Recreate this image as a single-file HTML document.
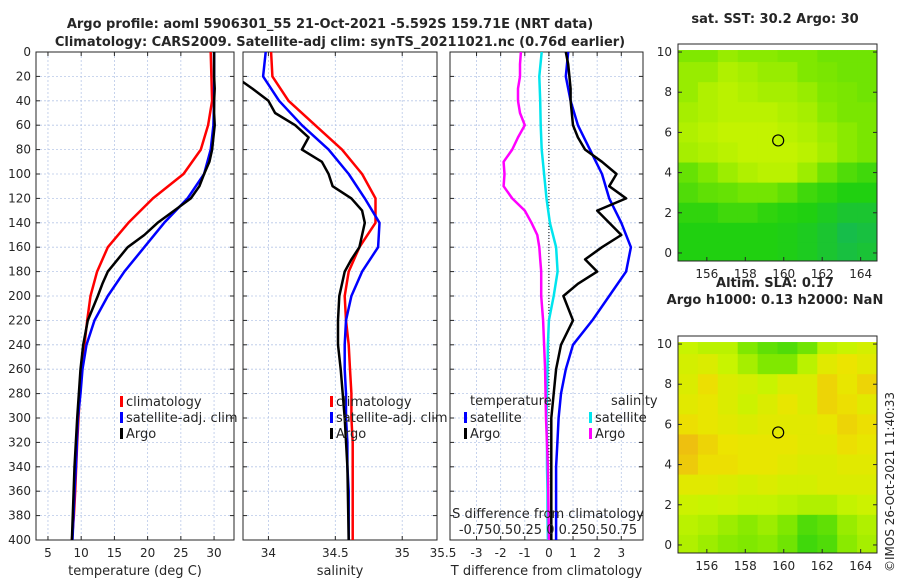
<!DOCTYPE html>
<html><head><meta charset="utf-8"><style>
body{margin:0;background:#fff;font-family:"Liberation Sans",sans-serif}
svg text{font-family:"DejaVu Sans","Liberation Sans",sans-serif;fill:#262626}
</style></head><body>
<svg id="c" width="900" height="580" xmlns="http://www.w3.org/2000/svg">
<text x="330" y="28" font-size="13" font-weight="bold" text-anchor="middle">Argo profile: aoml 5906301_55 21-Oct-2021 -5.592S 159.71E (NRT data)</text>
<text x="340" y="46" font-size="13" font-weight="bold" text-anchor="middle">Climatology: CARS2009. Satellite-adj clim: synTS_20211021.nc (0.76d earlier)</text>
<text x="775" y="23" font-size="13" font-weight="bold" text-anchor="middle">sat. SST: 30.2 Argo: 30</text>
<text x="775" y="287" font-size="13" font-weight="bold" text-anchor="middle">Altim. SLA: 0.17</text>
<text x="775" y="304" font-size="13" font-weight="bold" text-anchor="middle">Argo h1000: 0.13 h2000: NaN</text>
<text transform="translate(894,572) rotate(-90)" font-size="12">©IMOS 26-Oct-2021 11:40:33</text>
</svg>
<script>
// ---- data ----
const depths=[0,20,40,60,80,100,120,140,160,180,200,220,240,260,280,300,320,340,360,380,400];
const tempClim=[29.5,29.6,29.7,29.1,28.0,25.4,20.8,17.1,14.0,12.4,11.4,10.9,10.5,10.1,9.8,9.6,9.4,9.25,9.1,8.9,8.6];
const tempSat=[30.0,30.0,30.0,29.9,29.5,28.5,26.0,22.5,19.5,16.5,14.0,12.0,10.8,10.2,9.9,9.5,9.35,9.2,9.0,8.85,8.7];
const argoDepths=[0,10,20,30,40,50,60,70,80,90,100,110,120,130,140,150,160,170,180,190,200,220,240,260,300,340,400];
const tempArgo=[30.0,30.0,30.0,30.1,30.0,30.0,30.1,29.9,29.7,29.3,28.5,27.8,26.5,24.0,21.5,19.5,17.0,15.5,14.0,13.2,12.5,11.0,10.3,9.9,9.4,9.0,8.6];
const salClim=[34.02,34.03,34.15,34.35,34.55,34.70,34.80,34.80,34.68,34.60,34.57,34.58,34.60,34.61,34.62,34.62,34.63,34.63,34.63,34.63,34.63];
const salSat=[33.98,33.96,34.08,34.25,34.45,34.60,34.72,34.83,34.82,34.70,34.62,34.58,34.57,34.57,34.58,34.58,34.59,34.59,34.60,34.60,34.60];
const salArgo=[33.80,33.80,33.75,33.88,34.00,34.05,34.20,34.30,34.25,34.40,34.45,34.48,34.62,34.70,34.72,34.70,34.68,34.62,34.57,34.55,34.53,34.52,34.52,34.54,34.57,34.59,34.60];
const dTsat=[0.8,0.7,0.9,1.2,1.7,2.2,2.5,3.0,3.4,3.2,2.5,1.8,1.0,0.7,0.5,0.4,0.35,0.3,0.3,0.3,0.3];
const dTargo=[0.7,0.8,0.85,0.9,0.9,0.95,1.0,1.2,1.5,2.2,2.8,2.5,3.2,2.0,2.5,3.0,2.2,1.5,2.0,1.2,0.6,1.0,0.5,0.3,0.1,0.1,0.1];
const dSsat=[-0.075,-0.1,-0.09,-0.085,-0.075,-0.05,-0.025,0.01,0.075,0.09,0.05,0,-0.01,-0.015,-0.02,-0.025,-0.02,-0.02,-0.015,-0.015,-0.01];
const dSargo=[-0.29,-0.3,-0.3,-0.32,-0.32,-0.3,-0.25,-0.32,-0.38,-0.47,-0.46,-0.47,-0.38,-0.25,-0.18,-0.12,-0.1,-0.09,-0.08,-0.08,-0.08,-0.06,-0.05,-0.04,-0.03,-0.01,0.0];
const depthTicks=[0,20,40,60,80,100,120,140,160,180,200,220,240,260,280,300,320,340,360,380,400];
const tempTicks=[5,10,15,20,25,30];
const salTicks=[34,34.5,35];
const salTickLabels=["34","34.5","35"];
const dTTicks=[-3,-2,-1,0,1,2,3];
const mapXTicks=[156,158,160,162,164];
const mapYTicks=[0,2,4,6,8,10];
const sstGrid=[
[.6,.6,.65,.62,.62,.6,.6,.55,.55,.55],
[.65,.65,.7,.68,.65,.65,.6,.58,.55,.55],
[.65,.7,.72,.7,.68,.68,.65,.6,.58,.55],
[.68,.7,.72,.72,.72,.7,.68,.62,.58,.58],
[.7,.72,.74,.74,.74,.72,.7,.66,.62,.58],
[.68,.7,.72,.74,.74,.74,.72,.68,.62,.58],
[.52,.6,.66,.7,.72,.72,.66,.55,.45,.4],
[.45,.5,.52,.56,.56,.5,.4,.35,.3,.3],
[.35,.35,.4,.4,.35,.32,.3,.25,.2,.2],
[.3,.3,.3,.3,.3,.28,.25,.2,.12,.15],
[.3,.3,.3,.3,.3,.28,.25,.2,.15,.18]];
const slaGrid=[
[.75,.72,.72,.6,.5,.45,.55,.72,.75,.78],
[.78,.8,.75,.68,.6,.6,.72,.82,.85,.82],
[.8,.86,.8,.78,.75,.8,.8,.88,.84,.88],
[.82,.84,.8,.76,.8,.84,.8,.88,.86,.82],
[.86,.84,.82,.8,.82,.82,.82,.84,.88,.86],
[.92,.88,.85,.84,.84,.84,.82,.82,.86,.84],
[.9,.86,.86,.84,.84,.82,.8,.8,.82,.82],
[.82,.82,.8,.78,.8,.78,.78,.8,.8,.8],
[.76,.75,.76,.74,.74,.72,.7,.7,.74,.76],
[.72,.7,.66,.62,.66,.6,.45,.5,.65,.7],
[.7,.66,.62,.6,.62,.55,.4,.45,.62,.68]];
const argoLon=159.71, argoLat=5.6;

const svg=document.getElementById('c');
const NS='http://www.w3.org/2000/svg';
function mk(tag,attrs,parent){const e=document.createElementNS(NS,tag);for(const k in attrs)e.setAttribute(k,attrs[k]);(parent||svg).appendChild(e);return e;}
function txt(x,y,s,size,anchor,parent){const t=mk('text',{x:x,y:y,'font-size':size,'text-anchor':anchor||'middle'},parent);t.textContent=s;return t;}
const Y0=52,Y1=540;
const yD=d=>Y0+(d/400)*(Y1-Y0);
function panel(name,x0,x1,xmin,xmax,ticks,labels,xlabel,showY){
  const g=mk('g',{});
  
  
  const sx=v=>x0+(v-xmin)/(xmax-xmin)*(x1-x0);
  depthTicks.forEach(d=>{if(d>0&&d<400){const l=mk('line',{x1:x0,x2:x1,y1:yD(d),y2:yD(d),stroke:'#b8c8e8','stroke-width':0.8,'stroke-dasharray':'2,2'},g);}});
  ticks.forEach((v,i)=>{const X=sx(v);
    const l=mk('line',{x1:X,x2:X,y1:Y0,y2:Y1,stroke:'#b8c8e8','stroke-width':0.8,'stroke-dasharray':'2,2'},g);
    mk('line',{x1:X,x2:X,y1:Y1,y2:Y1-4,stroke:'#262626'},g);mk('line',{x1:X,x2:X,y1:Y0,y2:Y0+4,stroke:'#262626'},g);
    const t=txt(X,Y1+17,labels[i],12,'middle',g);});
  depthTicks.forEach(d=>{mk('line',{x1:x0,x2:x0+4,y1:yD(d),y2:yD(d),stroke:'#262626'},g);mk('line',{x1:x1,x2:x1-4,y1:yD(d),y2:yD(d),stroke:'#262626'},g);
    if(showY){const t=txt(x0-5,yD(d)+4,String(d),12,'end',g);}});
  const r=mk('rect',{x:x0,y:Y0,width:x1-x0,height:Y1-Y0,fill:'none',stroke:'#262626','stroke-width':1},g);
  
  const xl=txt((x0+x1)/2,Y1+35,xlabel,13,'middle',g);
  
  const cp=mk('clipPath',{id:'cp'+name},g);mk('rect',{x:x0,y:Y0,width:x1-x0,height:Y1-Y0},cp);
  return {g,sx,clip:'url(#cp'+name+')'};
}
function line(p,vals,ds,color,name,scale){
  const pts=vals.map((v,i)=>p.sx(v*(scale||1)).toFixed(1)+','+yD(ds[i]).toFixed(1)).join(' ');
  const pl=mk('polyline',{points:pts,fill:'none',stroke:color,'stroke-width':2.5,'stroke-linejoin':'round','clip-path':p.clip},p.g);
  
  
}
function legend(g,x,y,color,label,name){
  mk('rect',{x:x,y:y-9,width:3,height:11,fill:color},g);
  const t=txt(x+6,y+1,label,13,'start',g);
  
  
}
const p1=panel('temperature-panel',36,234,3.2,33,tempTicks,tempTicks.map(String),'temperature (deg C)',true);
line(p1,tempClim,depths,'#ff0000','temp-climatology-line');
line(p1,tempSat,depths,'#0000ff','temp-satellite-line');
line(p1,tempArgo,argoDepths,'#000000','temp-argo-line');
legend(p1.g,120,405,'#ff0000','climatology','legend-climatology');
legend(p1.g,120,421,'#0000ff','satellite-adj. clim','legend-satellite');
legend(p1.g,120,437,'#000000','Argo','legend-argo');
const p2=panel('salinity-panel',243,437,33.81,35.26,salTicks,salTickLabels,'salinity',false);
line(p2,salClim,depths,'#ff0000','sal-climatology-line');
line(p2,salSat,depths,'#0000ff','sal-satellite-line');
line(p2,salArgo,argoDepths,'#000000','sal-argo-line');
legend(p2.g,330,405,'#ff0000','climatology','legend-climatology-2');
legend(p2.g,330,421,'#0000ff','satellite-adj. clim','legend-satellite-2');
legend(p2.g,330,437,'#000000','Argo','legend-argo-2');
const t355=txt(443,557,'35.5',12,'middle');


const p3=panel('difference-panel',450,643,-4.1,3.9,dTTicks,dTTicks.map(String),'T difference from climatology',false);
mk('line',{x1:p3.sx(0),x2:p3.sx(0),y1:Y0,y2:Y1,stroke:'#000','stroke-width':1,'stroke-dasharray':'1,2'},p3.g);
line(p3,dSsat,depths,'#00e5ee','sal-diff-satellite-line',4);
line(p3,dSargo,argoDepths,'#ff00ff','sal-diff-argo-line',4);
line(p3,dTsat,depths,'#0000ff','temp-diff-satellite-line');
line(p3,dTargo,argoDepths,'#000000','temp-diff-argo-line');
txt(470,405,'temperature',13,'start',p3.g);
txt(611,405,'salinity',13,'start',p3.g);
legend(p3.g,464,421,'#0000ff','satellite','legend-temp-satellite');
legend(p3.g,464,437,'#000000','Argo','legend-temp-argo');
legend(p3.g,589,421,'#00e5ee','satellite','legend-sal-satellite');
legend(p3.g,589,437,'#ff00ff','Argo','legend-sal-argo');
txt(548,518,'S difference from climatology',13,'middle',p3.g);
txt(548,534,'-0.750.50.25 0 0.250.50.75',13,'middle',p3.g);

// colormap
const cstops=[[0,[16,176,112]],[0.3,[32,208,16]],[0.6,[128,232,0]],[0.75,[200,244,0]],[0.85,[236,228,0]],[1,[240,150,32]]];
function cmap(v){for(let i=1;i<cstops.length;i++){if(v<=cstops[i][0]){const a=cstops[i-1],b=cstops[i],t=(v-a[0])/(b[0]-a[0]);return 'rgb('+a[1].map((c,k)=>Math.round(c+(b[1][k]-c)*t)).join(',')+')';}}return 'rgb(240,150,32)';}
function map(name,top,bot,grid){
  const x0=678,x1=877,lonMin=154.5,lonMax=164.85,latMin=-0.4,latMax=10.4;
  const g=mk('g',{});
  
  
  const sx=v=>x0+(v-lonMin)/(lonMax-lonMin)*(x1-x0);
  const sy=v=>bot-(v-latMin)/(latMax-latMin)*(bot-top);
  const nc=grid[0].length;
  grid.forEach((row,r)=>{const latT=r===0?10.1:10.5-r,latB=Math.max(-0.4,10.5-r-1);
    row.forEach((v,c)=>{const lo=lonMin+c*(lonMax-lonMin)/nc,hi=lonMin+(c+1)*(lonMax-lonMin)/nc;
      const cell=mk('rect',{x:sx(lo),y:sy(latT),width:sx(hi)-sx(lo)+0.5,height:sy(latB)-sy(latT)+0.5,fill:cmap(v)},g);
      
      });});
  mk('rect',{x:x0,y:top,width:x1-x0,height:bot-top,fill:'none',stroke:'#262626'},g);
  mapXTicks.forEach(v=>{mk('line',{x1:sx(v),x2:sx(v),y1:bot,y2:bot-4,stroke:'#262626'},g);const t=txt(sx(v),bot+17,String(v),12,'middle',g);});
  mapYTicks.forEach(v=>{mk('line',{x1:x0,x2:x0+4,y1:sy(v),y2:sy(v),stroke:'#262626'},g);mk('line',{x1:x1,x2:x1-4,y1:sy(v),y2:sy(v),stroke:'#262626'},g);const t=txt(x0-6,sy(v)+4,String(v),12,'end',g);});
  const m=mk('circle',{cx:sx(argoLon),cy:sy(argoLat),r:5.5,fill:'none',stroke:'#000','stroke-width':1.2},g);
  
  
}
map('sst-map',44,261,sstGrid);
map('sla-map',336,553,slaGrid);
</script>
</body></html>
